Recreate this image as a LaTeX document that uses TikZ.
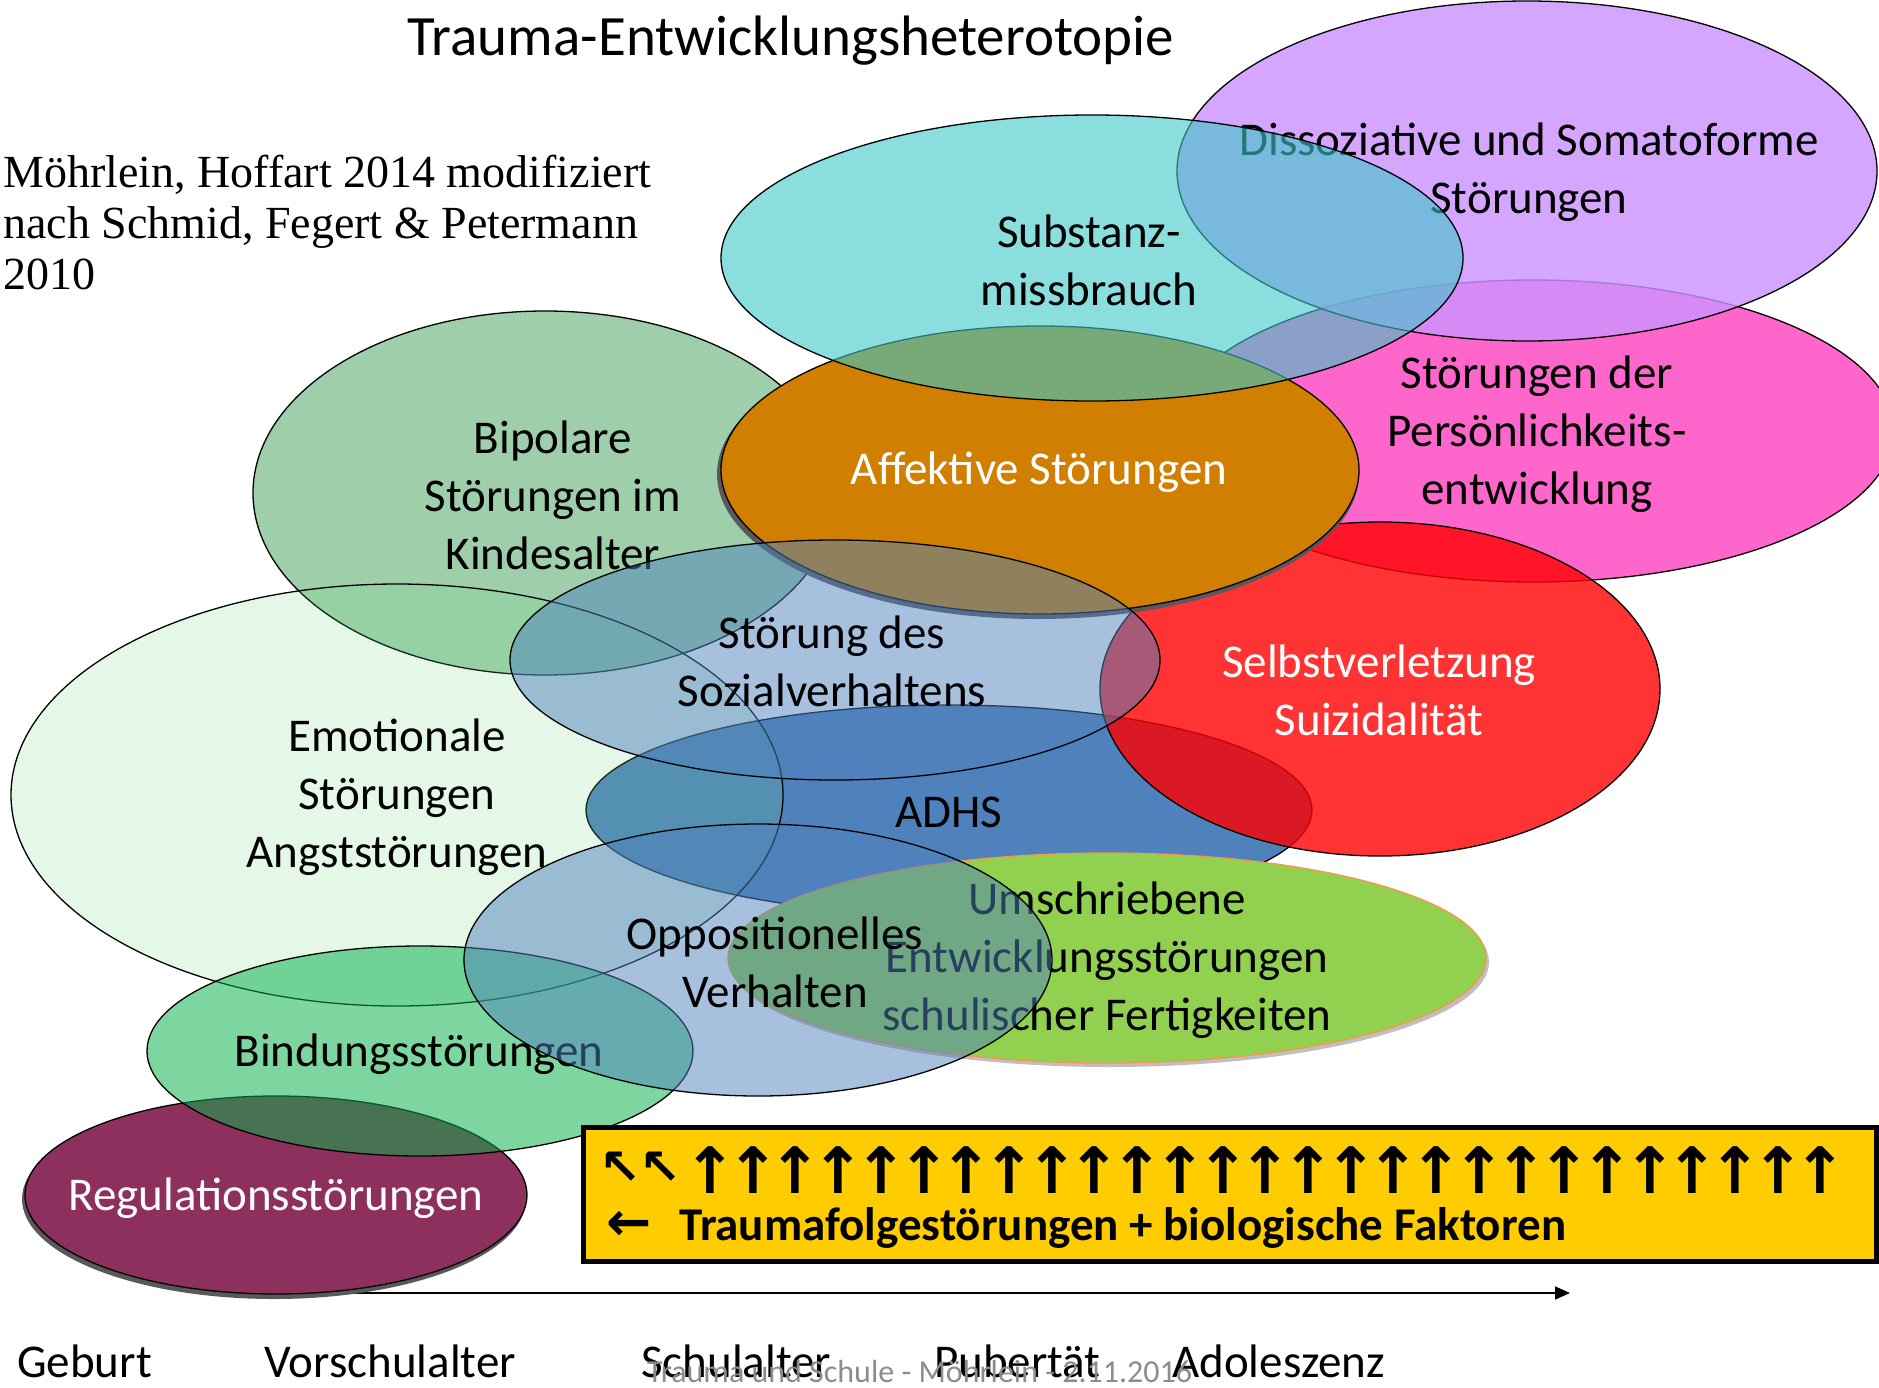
\documentclass[tikz,border=0pt]{standalone}
\usepackage{fontspec}
\setmainfont{Carlito}
\newfontfamily\quellefont{Liberation Serif}
\newfontfamily\pfeilfont{DejaVu Sans}
\usetikzlibrary{arrows.meta}
\definecolor{persPink}{RGB}{255,102,204}
\definecolor{dissViolet}{RGB}{204,146,255}
\definecolor{adhsBlue}{RGB}{79,129,189}
\definecolor{suizRed}{RGB}{255,0,0}
\definecolor{bipoGreen}{RGB}{93,175,113}
\definecolor{affOrange}{RGB}{209,127,0}
\definecolor{substCyan}{RGB}{60,200,200}
\definecolor{emoGreen}{RGB}{111,217,128}
\definecolor{regMaroon}{RGB}{142,48,94}
\definecolor{bindGreen}{RGB}{6,177,73}
\definecolor{umsGreen}{RGB}{146,208,80}
\definecolor{umsEdge}{RGB}{247,150,70}
\definecolor{boxYellow}{RGB}{255,204,0}
\definecolor{footGray}{RGB}{140,140,140}
\tikzset{
  % Ellipsen
  ell/.style      = {draw=black, line width=1.3pt},
  shadowell/.style= {fill=black!65},
  % Beschriftungen
  lab/.style      = {font=\fontsize{47}{58}\selectfont, align=center, inner sep=0pt},
  labwhite/.style = {lab, text=white},
  titel/.style    = {font=\fontsize{57}{66}\selectfont, anchor=base, inner sep=0pt},
  quelle/.style   = {font=\quellefont\fontsize{46}{51}\selectfont, align=left,
                     anchor=north west, inner sep=0pt},
  zeit/.style     = {font=\fontsize{47}{54}\selectfont, anchor=base west, inner sep=0pt},
  fusszeile/.style= {font=\fontsize{32}{38}\selectfont, text=footGray,
                     anchor=base west, inner sep=0pt},
  % Gelber Kasten
  faktorbox/.style   = {fill=boxYellow, draw=black, line width=5pt},
  pfeil/.style       = {font=\pfeilfont\bfseries\fontsize{64}{64}\selectfont, inner sep=0pt},
  pfeilschraeg/.style= {font=\pfeilfont\bfseries\fontsize{50}{50}\selectfont, inner sep=0pt},
  pfeilklein/.style  = {font=\pfeilfont\bfseries\fontsize{54}{54}\selectfont, inner sep=0pt},
  faktortext/.style  = {font=\bfseries\fontsize{47}{54}\selectfont, anchor=base west, inner sep=0pt},
  % Zeitachse
  achse/.style    = {-{Triangle[length=15pt,width=13pt]}, line width=1.6pt},
}

\begin{document}
\begin{tikzpicture}[x=1pt, y=-1pt]
  \useasboundingbox (0,0) rectangle (1879,1387);
  % Titel und Quelle
  \node[titel] (titel) at (791,55) {Trauma-Entwicklungsheterotopie};
  \node[quelle] (quelle) at (3,155) {Möhrlein, Hoffart 2014 modifiziert\\nach Schmid, Fegert \& Petermann\\2010};

  % Persoenlichkeit
  \draw[ell, fill=persPink] (1533,431) ellipse [x radius=361pt, y radius=151pt];
  \node[lab] (pers) at (1537,434) {Störungen der\\Persönlichkeits-\\entwicklung};
  % Dissoziative
  \draw[ell, fill=dissViolet, fill opacity=.82] (1527,171) ellipse [x radius=350pt, y radius=170pt];
  \node[lab] (diss) at (1529,172) {Dissoziative und Somatoforme\\Störungen};
  % ADHS
  \draw[ell, fill=adhsBlue] (949,810) ellipse [x radius=363pt, y radius=105pt];
  \node[lab] (adhs) at (949,812) {ADHS};
  % Selbstverletzung
  \draw[ell, fill=suizRed, fill opacity=.8] (1380,689) ellipse [x radius=280pt, y radius=167pt];
  \node[labwhite] (suiz) at (1379,690) {Selbstverletzung\\Suizidalität};
  % Bipolare
  \draw[ell, fill=bipoGreen, fill opacity=.6] (545,493) ellipse [x radius=292pt, y radius=182pt];
  \node[lab] (bipo) at (553,495) {Bipolare\\Störungen im\\Kindesalter};
  % Affektive
  \fill[shadowell] (1038,474) ellipse [x radius=321pt, y radius=145pt];
  \draw[ell, fill=affOrange] (1040,470) ellipse [x radius=319pt, y radius=144pt];
  \node[labwhite] (aff) at (1039,472) {Affektive Störungen};
  % Substanzmissbrauch
  \draw[ell, fill=substCyan, fill opacity=.6] (1092,258) ellipse [x radius=371pt, y radius=143pt];
  \node[lab] (subst) at (1089,260) {Substanz-\\missbrauch};
  % Emotionale
  \draw[ell, fill=emoGreen, fill opacity=.18] (397,795) ellipse [x radius=386pt, y radius=211pt];
  \node[lab] (emo) at (397,797) {Emotionale\\Störungen\\Angststörungen};
  % Sozialverhalten
  \draw[ell, fill=adhsBlue, fill opacity=.5] (835,660) ellipse [x radius=325pt, y radius=120pt];
  \node[lab] (sozial) at (832,661) {Störung des\\Sozialverhaltens};

  % Zeitachse
  \coordinate (achseA) at (276,1293);
  \coordinate (achseB) at (1570,1293);
  \draw[achse] (achseA) -- (achseB);

  % Regulation
  \fill[shadowell] (274,1199) ellipse [x radius=252pt, y radius=100pt];
  \draw[ell, fill=regMaroon] (276,1195) ellipse [x radius=251pt, y radius=99pt];
  \node[labwhite] (reg) at (276,1198) {Regulationsstörungen};
  % Bindung
  \draw[ell, fill=bindGreen, fill opacity=.52] (420,1051) ellipse [x radius=273pt, y radius=105pt];
  \node[lab] (bind) at (419,1054) {Bindungsstörungen};
  % Umschriebene
  \fill[black!25] (1110,962) ellipse [x radius=379pt, y radius=105pt];
  \draw[ell, draw=umsEdge, fill=umsGreen] (1107,958) ellipse [x radius=379pt, y radius=105pt];
  \node[lab] (ums) at (1107,960) {Umschriebene\\Entwicklungsstörungen\\schulischer Fertigkeiten};
  % Oppositionelles
  \draw[ell, fill=adhsBlue, fill opacity=.5] (758,960) ellipse [x radius=294pt, y radius=136pt];
  \node[lab] (opp) at (775,962) {Oppositionelles\\Verhalten};

  % Traumafolgen
  \draw[faktorbox] (583,1127) rectangle (1876,1261);
  \foreach \i in {0,1}
    \node[pfeilschraeg] (nw\i) at ({620+40*\i},1168) {↖};
  \foreach \i in {2,...,28}
    \node[pfeil] (up\i) at ({625+42.7*\i},1170) {↑};
  \node[pfeilklein] (links) at (629,1226) {←};
  \node[faktortext] (faktoren) at (679,1240) {Traumafolgestörungen + biologische Faktoren};

  % Lebensabschnitte
  \foreach \x/\t/\n in {17/Geburt/geburt, 264/Vorschulalter/vorschule,
                        641/Schulalter/schule, 934/Pubertät/pubertaet, 1172/Adoleszenz/adoleszenz}
    \node[zeit] (\n) at (\x,1377) {\t};
  \node[fusszeile] (fuss) at (647,1382) {Trauma und Schule - Möhrlein - 2.11.2016};
\end{tikzpicture}
\end{document}
